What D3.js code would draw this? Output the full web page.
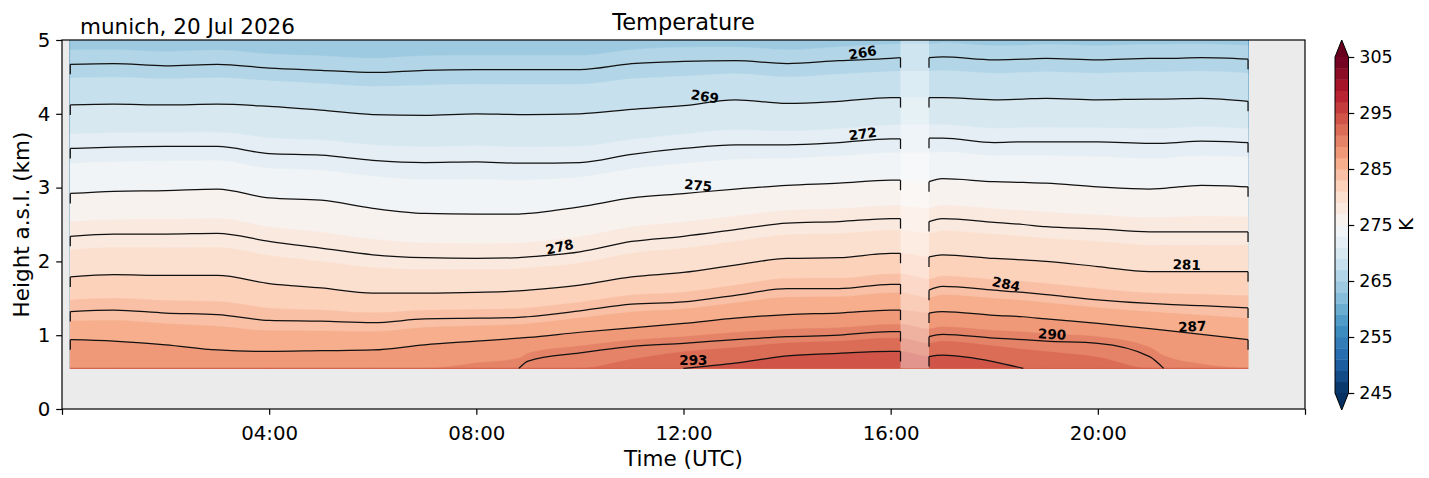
<!DOCTYPE html>
<html>
<head>
<meta charset="utf-8">
<script src="https://cdn.jsdelivr.net/npm/d3@7"></script>
<style>
  body { margin: 0; background: #fff; }
  svg text { font-family: "DejaVu Sans", sans-serif; fill: #000; }
</style>
</head>
<body>
<svg id="chart" width="1429" height="478"></svg>
<script>
// time columns (hours UTC) at which the isotherm heights were read
const hours   = [0.16, 1, 2, 3, 4, 5, 6, 7, 8, 8.82, 9, 10, 11, 12, 13, 14, 15, 16, 16.19, 16.74, 17, 18, 18.56, 19, 20, 21, 21.27, 22, 22.9];
// temperature (K) at the lowest (0.55 km) and highest (5 km) gate
const tBottom = [288.6, 288.6, 288.5, 288.4, 288.4, 288.5, 288.7, 289.0, 289.5, 290.0, 290.3, 291.0, 291.7, 293.0, 293.6, 294.1, 294.4, 294.5, 294.5, 294.2, 294.1, 293.6, 293.0, 292.6, 291.8, 290.5, 290.0, 289.3, 288.8];
const tTop    = [264.3, 264.3, 264.2, 264.3, 264.0, 263.9, 263.7, 263.9, 263.9, 263.9, 263.9, 263.9, 264.3, 264.5, 264.5, 264.3, 264.5, 264.7, 264.7, 264.7, 264.8, 264.6, 264.6, 264.7, 264.6, 264.7, 264.7, 264.7, 264.6];
// isotherm heights (km), null = below the lowest gate
const h266 = [4.67, 4.68, 4.65, 4.67, 4.62, 4.59, 4.56, 4.59, 4.60, 4.60, 4.60, 4.60, 4.68, 4.71, 4.72, 4.68, 4.72, 4.75, 4.76, 4.76, 4.77, 4.73, 4.74, 4.75, 4.73, 4.75, 4.75, 4.76, 4.74];
const h269 = [4.12, 4.13, 4.12, 4.13, 4.10, 4.05, 3.99, 3.98, 4.00, 3.99, 3.99, 4.00, 4.06, 4.11, 4.19, 4.14, 4.17, 4.22, 4.22, 4.22, 4.22, 4.19, 4.20, 4.21, 4.19, 4.20, 4.20, 4.21, 4.17];
const h272 = [3.53, 3.55, 3.56, 3.56, 3.46, 3.44, 3.37, 3.34, 3.35, 3.33, 3.33, 3.34, 3.45, 3.53, 3.58, 3.58, 3.61, 3.66, 3.66, 3.67, 3.67, 3.61, 3.62, 3.62, 3.62, 3.60, 3.60, 3.63, 3.61];
const h275 = [2.92, 2.95, 2.96, 2.98, 2.86, 2.83, 2.72, 2.65, 2.64, 2.64, 2.65, 2.74, 2.86, 2.92, 2.98, 3.03, 3.06, 3.10, 3.10, 3.08, 3.12, 3.08, 3.07, 3.06, 3.01, 2.98, 2.99, 3.03, 3.01];
const h278 = [2.34, 2.37, 2.37, 2.38, 2.27, 2.18, 2.09, 2.05, 2.04, 2.05, 2.06, 2.13, 2.27, 2.34, 2.43, 2.52, 2.54, 2.58, 2.58, 2.54, 2.58, 2.53, 2.50, 2.47, 2.44, 2.40, 2.40, 2.40, 2.40];
const h281 = [1.79, 1.82, 1.81, 1.81, 1.70, 1.64, 1.57, 1.57, 1.58, 1.60, 1.61, 1.68, 1.79, 1.85, 1.95, 2.04, 2.05, 2.11, 2.11, 2.06, 2.09, 2.04, 2.02, 2.00, 1.93, 1.86, 1.86, 1.86, 1.86];
const h284 = [1.32, 1.34, 1.30, 1.28, 1.20, 1.19, 1.17, 1.22, 1.23, 1.24, 1.25, 1.33, 1.42, 1.45, 1.54, 1.63, 1.63, 1.69, 1.69, 1.61, 1.66, 1.61, 1.58, 1.55, 1.48, 1.43, 1.42, 1.40, 1.37];
const h287 = [0.94, 0.92, 0.87, 0.80, 0.78, 0.79, 0.80, 0.87, 0.92, 0.96, 0.97, 1.04, 1.10, 1.16, 1.23, 1.28, 1.30, 1.34, 1.34, 1.30, 1.32, 1.27, 1.25, 1.22, 1.16, 1.09, 1.07, 1.01, 0.94];
const h290 = [null, null, null, null, null, null, null, null, null, 0.55, 0.65, 0.76, 0.85, 0.89, 0.94, 0.98, 1.00, 1.05, 1.05, 0.98, 1.01, 0.96, 0.94, 0.92, 0.89, 0.71, 0.55, null, null];
const h293 = [null, null, null, null, null, null, null, null, null, null, null, null, null, 0.55, 0.62, 0.72, 0.755, 0.78, 0.78, 0.71, 0.73, 0.64, 0.55, null, null, null, null, null, null];

const lineLevels  = [266, 269, 272, 275, 278, 281, 284, 287, 290, 293];
const labelHours  = [15.48, 12.39, 15.48, 12.27, 9.64, 21.71, 18.2, 21.83, 19.11, 12.19];
const labelAngles = [-10, 9, -8, 5, -13, 2, 12, -3, 3, 0];
const gapHours = [16.19, 16.74];
const bandLevels = d3.range(245, 305, 2);
const xTicks = [0, 4, 8, 12, 16, 20, 24];
const xTickLabels = ['', '04:00', '08:00', '12:00', '16:00', '20:00', ''];
const yTicks = [0, 1, 2, 3, 4, 5];
const cbarTicks = [245, 255, 265, 275, 285, 295, 305];

const isoHeights = {266: h266, 269: h269, 272: h272, 275: h275, 278: h278,
                    281: h281, 284: h284, 287: h287, 290: h290, 293: h293};

const W = 1429, H = 478;
const plot = {left: 62, right: 1305, top: 40, bottom: 409};
const baseHeight = 0.55, topHeight = 5.0;

const x = d3.scaleLinear().domain([0, 24]).range([plot.left, plot.right]);
const y = d3.scaleLinear().domain([0, 5]).range([plot.bottom, plot.top]);

// matplotlib RdBu_r
const cmap = d3.piecewise(d3.interpolateRgb, ['#053061', '#2166ac', '#4393c3', '#92c5de', '#d1e5f0',
  '#f7f7f7', '#fddbc7', '#f4a582', '#d6604d', '#b2182b', '#67001f']);
const bandColor = v => cmap((v + 1 - 245) / 60);

// temperature profile of one column: [height, T] pairs going up
function profile(i) {
  const pts = [[baseHeight, tBottom[i]]];
  lineLevels.slice().reverse().forEach(L => {
    const h = isoHeights[L][i];
    if (h != null && h >= pts[pts.length - 1][0]) pts.push([h, L]);
  });
  pts.push([topHeight, tTop[i]]);
  return pts;
}

function heightOf(v, i) {
  const pts = profile(i);
  if (v >= pts[0][1]) return baseHeight;
  if (v <= pts[pts.length - 1][1]) return topHeight;
  for (let k = 0; k < pts.length - 1; k++) {
    const [h0, t0] = pts[k], [h1, t1] = pts[k + 1];
    if (t0 >= v && v >= t1) return t0 === t1 ? h0 : h0 + (h1 - h0) * (t0 - v) / (t0 - t1);
  }
  return topHeight;
}

const svg = d3.select('#chart');
svg.append('rect').attr('width', W).attr('height', H).attr('fill', '#fff');

svg.append('defs').append('clipPath').attr('id', 'plot-clip').append('rect')
  .attr('x', plot.left).attr('y', plot.top)
  .attr('width', plot.right - plot.left).attr('height', plot.bottom - plot.top);

const gPlot = svg.append('g').attr('clip-path', 'url(#plot-clip)');
gPlot.append('rect')
  .attr('x', plot.left).attr('y', plot.top)
  .attr('width', plot.right - plot.left).attr('height', plot.bottom - plot.top)
  .attr('fill', '#ebebeb');

// filled bands, lowest threshold first
const area = d3.area()
  .x(d => x(d.t))
  .y0(y(baseHeight))
  .y1(d => y(d.h))
  .curve(d3.curveMonotoneX);

bandLevels.forEach(v => {
  const pts = hours.map((t, i) => ({t, h: heightOf(v, i)}));
  if (pts.every(d => d.h <= baseHeight)) return;
  gPlot.append('path')
    .attr('d', area(pts))
    .attr('fill', bandColor(v))
    .attr('stroke', bandColor(v))
    .attr('stroke-width', 0.4);
});

// missing data
gPlot.append('rect')
  .attr('x', x(gapHours[0])).attr('y', y(topHeight))
  .attr('width', x(gapHours[1]) - x(gapHours[0]))
  .attr('height', y(baseHeight) - y(topHeight))
  .attr('fill', '#fff').attr('opacity', 0.38);

// contour lines
const line = d3.line().x(d => x(d.t)).y(d => y(d.h)).curve(d3.curveMonotoneX);
const gLines = gPlot.append('g')
  .attr('fill', 'none').attr('stroke', '#111').attr('stroke-width', 1.25);

lineLevels.forEach(L => {
  const pts = hours.map((t, i) => ({t, h: isoHeights[L][i]}));
  const segments = [pts.filter(d => d.t <= gapHours[0]), pts.filter(d => d.t >= gapHours[1])];
  segments.forEach(seg => {
    let runs = [], cur = [];
    seg.forEach(d => {
      if (d.h == null) { if (cur.length) runs.push(cur); cur = []; }
      else cur.push(d);
    });
    if (cur.length) runs.push(cur);
    runs.forEach(run => {
      gLines.append('path').attr('d', line(run));
      [run[0], run[run.length - 1]].forEach(d => {
        if (d.h > baseHeight + 0.01) {
          gLines.append('line')
            .attr('x1', x(d.t)).attr('x2', x(d.t))
            .attr('y1', y(d.h)).attr('y2', y(d.h) + 10);
        }
      });
    });
  });
});

// contour labels
lineLevels.forEach((L, k) => {
  const def = hours.map((t, i) => [t, isoHeights[L][i]]).filter(d => d[1] != null);
  const hAt = d3.scaleLinear().domain(def.map(d => d[0])).range(def.map(d => d[1]));
  const t = labelHours[k];
  gPlot.append('text')
    .attr('transform', `translate(${x(t)},${y(hAt(t))}) rotate(${labelAngles[k]}) translate(0,-7)`)
    .attr('text-anchor', 'middle')
    .attr('dy', '0.35em')
    .attr('font-size', 13.5)
    .attr('font-weight', 'bold')
    .text(L);
});

// frame
svg.append('rect')
  .attr('x', plot.left).attr('y', plot.top)
  .attr('width', plot.right - plot.left).attr('height', plot.bottom - plot.top)
  .attr('fill', 'none').attr('stroke', '#000').attr('stroke-width', 1.2);

// axes
const xAxis = svg.append('g')
  .attr('transform', `translate(0,${plot.bottom})`)
  .call(d3.axisBottom(x).tickValues(xTicks).tickFormat((d, i) => xTickLabels[i])
    .tickSize(5.8).tickPadding(11));
const yAxis = svg.append('g')
  .attr('transform', `translate(${plot.left},0)`)
  .call(d3.axisLeft(y).tickValues(yTicks).tickFormat(d3.format('d'))
    .tickSize(5.8).tickPadding(5.8));

[xAxis, yAxis].forEach(g => {
  g.select('.domain').remove();
  g.selectAll('.tick line').attr('stroke', '#000').attr('stroke-width', 1.2);
  g.selectAll('.tick text').attr('font-size', 19.8).attr('font-family', '"DejaVu Sans", sans-serif').attr('fill', '#000');
});

svg.append('text')
  .attr('x', (plot.left + plot.right) / 2).attr('y', 466)
  .attr('text-anchor', 'middle').attr('font-size', 21.5)
  .text('Time (UTC)');

svg.append('text')
  .attr('transform', `translate(28.5,${(plot.top + plot.bottom) / 2}) rotate(-90)`)
  .attr('text-anchor', 'middle').attr('font-size', 21.5)
  .text('Height a.s.l. (km)');

svg.append('text')
  .attr('x', (plot.left + plot.right) / 2).attr('y', 29.5)
  .attr('text-anchor', 'middle').attr('font-size', 22.5)
  .text('Temperature');

svg.append('text')
  .attr('x', 80).attr('y', 34)
  .attr('font-size', 21.5)
  .text('munich, 20 Jul 2026');

// colorbar
const cbar = {x: 1335, w: 13.5, top: 57, bottom: 393, ext: 17};
const cy = d3.scaleLinear().domain([245, 305]).range([cbar.bottom, cbar.top]);
const gBar = svg.append('g');

bandLevels.forEach(v => {
  gBar.append('rect')
    .attr('x', cbar.x).attr('y', cy(v + 2))
    .attr('width', cbar.w).attr('height', cy(v) - cy(v + 2) + 0.4)
    .attr('fill', bandColor(v));
});
gBar.append('path')
  .attr('d', `M${cbar.x},${cbar.top}L${cbar.x + cbar.w},${cbar.top}L${cbar.x + cbar.w / 2},${cbar.top - cbar.ext}Z`)
  .attr('fill', cmap(1));
gBar.append('path')
  .attr('d', `M${cbar.x},${cbar.bottom}L${cbar.x + cbar.w},${cbar.bottom}L${cbar.x + cbar.w / 2},${cbar.bottom + cbar.ext}Z`)
  .attr('fill', cmap(0));
gBar.append('path')
  .attr('d', `M${cbar.x},${cbar.top}L${cbar.x + cbar.w / 2},${cbar.top - cbar.ext}L${cbar.x + cbar.w},${cbar.top}` +
             `L${cbar.x + cbar.w},${cbar.bottom}L${cbar.x + cbar.w / 2},${cbar.bottom + cbar.ext}L${cbar.x},${cbar.bottom}Z`)
  .attr('fill', 'none').attr('stroke', '#000').attr('stroke-width', 1);

const cAxis = svg.append('g')
  .attr('transform', `translate(${cbar.x + cbar.w},0)`)
  .call(d3.axisRight(cy).tickValues(cbarTicks).tickSize(5.8).tickPadding(5));
cAxis.select('.domain').remove();
cAxis.selectAll('.tick line').attr('stroke', '#000').attr('stroke-width', 1.2);
cAxis.selectAll('.tick text').attr('font-size', 17.5).attr('font-family', '"DejaVu Sans", sans-serif').attr('fill', '#000');

svg.append('text')
  .attr('transform', `translate(1413,${(plot.top + plot.bottom) / 2}) rotate(-90)`)
  .attr('text-anchor', 'middle').attr('font-size', 19.8)
  .text('K');
</script>
</body>
</html>
